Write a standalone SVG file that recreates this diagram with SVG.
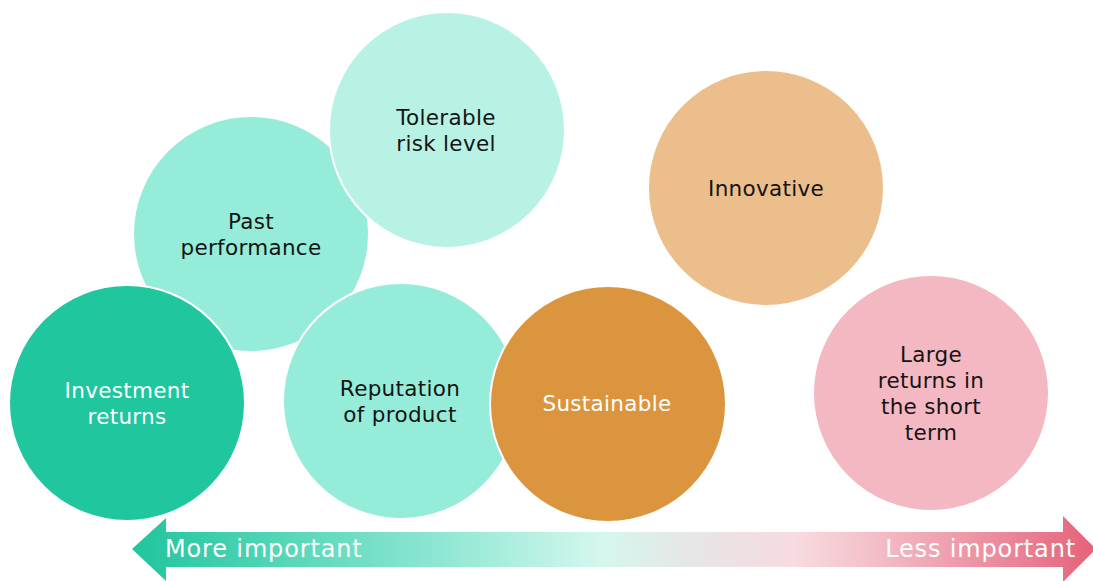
<svg xmlns="http://www.w3.org/2000/svg" width="1093" height="581" viewBox="0 0 1093 581">
  <defs>
    <linearGradient id="scale" gradientUnits="userSpaceOnUse" x1="132" y1="0" x2="1093" y2="0">
      <stop offset="0" stop-color="#1fc59d"/>
      <stop offset="0.33" stop-color="#92e8d4"/>
      <stop offset="0.49" stop-color="#d5f7ee"/>
      <stop offset="0.58" stop-color="#e6e6e6"/>
      <stop offset="0.69" stop-color="#f7dbe0"/>
      <stop offset="0.76" stop-color="#f4c3cc"/>
      <stop offset="1" stop-color="#e5637b"/>
    </linearGradient>
  </defs>
  <style>
    .bubble { stroke: #ffffff; stroke-width: 2; }
    .label { font-family: "DejaVu Sans", Verdana, sans-serif; font-size: 21.5px; letter-spacing: 0.3px; text-anchor: middle; fill: #141414; }
    .label.light { fill: #ffffff; }
    .axis { font-family: "DejaVu Sans", Verdana, sans-serif; font-size: 24px; letter-spacing: 0.85px; fill: #ffffff; }
  </style>
  <rect width="1093" height="581" fill="#ffffff"/>

  <g id="past-performance">
    <circle class="bubble" cx="251" cy="234" r="118" fill="#95ecd8"/>
    <text class="label" x="251" y="229">Past</text>
    <text class="label" x="251" y="255">performance</text>
  </g>
  <g id="tolerable-risk">
    <circle class="bubble" cx="447" cy="130" r="118" fill="#b8f2e4"/>
    <text class="label" x="446" y="125">Tolerable</text>
    <text class="label" x="446" y="151">risk level</text>
  </g>
  <g id="investment-returns">
    <circle class="bubble" cx="127" cy="403" r="118" fill="#20c69e"/>
    <text class="label light" x="127" y="398">Investment</text>
    <text class="label light" x="127" y="424">returns</text>
  </g>
  <g id="reputation">
    <circle class="bubble" cx="401" cy="401" r="118" fill="#95ecd8"/>
    <text class="label" x="400" y="396">Reputation</text>
    <text class="label" x="400" y="422">of product</text>
  </g>
  <g id="sustainable">
    <circle class="bubble" cx="608" cy="404" r="118" fill="#dc953f"/>
    <text class="label light" x="607" y="411">Sustainable</text>
  </g>
  <g id="innovative">
    <circle class="bubble" cx="766" cy="188" r="118" fill="#ecbe8b"/>
    <text class="label" x="766" y="196">Innovative</text>
  </g>
  <g id="large-returns">
    <circle class="bubble" cx="931" cy="393" r="118" fill="#f4b8c2"/>
    <text class="label" x="931" y="362">Large</text>
    <text class="label" x="931" y="388">returns in</text>
    <text class="label" x="931" y="414">the short</text>
    <text class="label" x="931" y="440">term</text>
  </g>

  <g id="connectors">
    <!-- double-headed importance scale -->
    <path d="M132,549 L166,518 L166,532 L1063,532 L1063,516 L1096,549 L1063,582 L1063,567 L166,567 L166,581 Z" fill="url(#scale)"/>
    <text class="axis" x="165" y="557">More important</text>
    <text class="axis" x="1076" y="557" text-anchor="end">Less important</text>
  </g>
</svg>
